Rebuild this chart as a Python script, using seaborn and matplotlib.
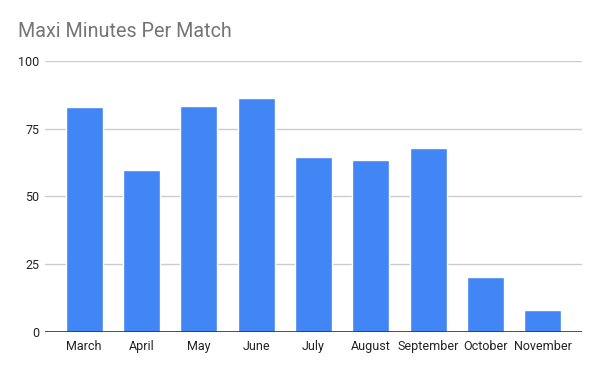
import matplotlib
matplotlib.use("Agg")
import matplotlib.pyplot as plt
import seaborn as sns
import pandas as pd

months = ["March", "April", "May", "June", "July", "August", "September", "October", "November"]
minutes = [83.0, 59.7, 83.4, 86.4, 64.6, 63.5, 67.9, 20.2, 8.0]
y_ticks = [0, 25, 50, 75, 100]

df = pd.DataFrame({"Month": months, "Minutes": minutes})

sns.set_theme(style="white")
plt.rcParams["font.family"] = ["Roboto", "DejaVu Sans"]

fig = plt.figure(figsize=(6, 3.71), dpi=100)
ax = fig.add_axes([0.075, 0.105, 0.895, 0.731])

sns.barplot(data=df, x="Month", y="Minutes", color="#4285F4", width=0.645,
            saturation=1, ax=ax, zorder=3)

ax.set_ylim(0, 100)
ax.set_xlim(-0.68, 8.68)
ax.set_yticks(y_ticks)
ax.set_yticklabels([str(t) for t in y_ticks])
ax.yaxis.grid(True, color="#cccccc", linewidth=1, zorder=0)
ax.xaxis.grid(False)
ax.axhline(0, color="#333333", linewidth=1.2, zorder=4)
for s in ax.spines.values():
    s.set_visible(False)
ax.tick_params(axis="y", length=0, pad=4, labelsize=9, labelcolor="#222222")
ax.tick_params(axis="x", length=0, pad=6, labelsize=9, labelcolor="#222222")
ax.set_xlabel("")
ax.set_ylabel("")

fig.text(0.03, 0.915, "Maxi Minutes Per Match", fontsize=14.2, color="#757575",
         ha="left", va="center")

fig.savefig("out.png", dpi=100, facecolor="white")
